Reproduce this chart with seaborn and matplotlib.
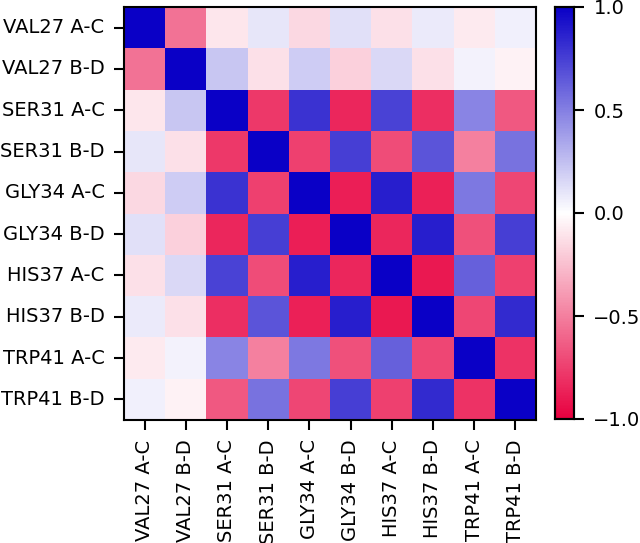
import numpy as np
import pandas as pd
import matplotlib
matplotlib.use("Agg")
import matplotlib.pyplot as plt
import seaborn as sns
from matplotlib.colors import LinearSegmentedColormap

labels = ["VAL27 A-C", "VAL27 B-D", "SER31 A-C", "SER31 B-D", "GLY34 A-C",
          "GLY34 B-D", "HIS37 A-C", "HIS37 B-D", "TRP41 A-C", "TRP41 B-D"]

# correlation values (symmetric)
row_val27_ac = [1.00, -0.55, -0.10, 0.10, -0.15, 0.12, -0.12, 0.08, -0.08, 0.06]
row_val27_bd = [-0.55, 1.00, 0.22, -0.12, 0.20, -0.18, 0.15, -0.12, 0.05, -0.05]
row_ser31_ac = [-0.10, 0.22, 1.00, -0.78, 0.80, -0.85, 0.74, -0.82, 0.48, -0.65]
row_ser31_bd = [0.10, -0.12, -0.78, 1.00, -0.75, 0.75, -0.70, 0.67, -0.50, 0.55]
row_gly34_ac = [-0.15, 0.20, 0.80, -0.75, 1.00, -0.88, 0.88, -0.87, 0.53, -0.72]
row_gly34_bd = [0.12, -0.18, -0.85, 0.75, -0.88, 1.00, -0.85, 0.88, -0.68, 0.75]
row_his37_ac = [-0.12, 0.15, 0.74, -0.70, 0.88, -0.85, 1.00, -0.90, 0.62, -0.75]
row_his37_bd = [0.08, -0.12, -0.82, 0.67, -0.87, 0.88, -0.90, 1.00, -0.72, 0.83]
row_trp41_ac = [-0.08, 0.05, 0.48, -0.50, 0.53, -0.68, 0.62, -0.72, 1.00, -0.80]
row_trp41_bd = [0.06, -0.05, -0.65, 0.55, -0.72, 0.75, -0.75, 0.83, -0.80, 1.00]

corr = pd.DataFrame([row_val27_ac, row_val27_bd, row_ser31_ac, row_ser31_bd,
                     row_gly34_ac, row_gly34_bd, row_his37_ac, row_his37_bd,
                     row_trp41_ac, row_trp41_bd], index=labels, columns=labels)

cmap = LinearSegmentedColormap.from_list("rwb", ["#e8003f", "#ffffff", "#0a00c6"])

fig = plt.figure(figsize=(6.4, 5.43), dpi=100)
ax = fig.add_axes([124 / 640, 1 - 420 / 543, 412 / 640, 413 / 543])
cax = fig.add_axes([555 / 640, 1 - 419 / 543, 19 / 640, 412 / 543])

sns.heatmap(corr, ax=ax, cbar_ax=cax, cmap=cmap, vmin=-1, vmax=1,
            xticklabels=labels, yticklabels=labels)

for s in ax.spines.values():
    s.set_visible(True)
    s.set_linewidth(1.5)
cax.set_frame_on(True)
for s in cax.spines.values():
    s.set_visible(True)
    s.set_linewidth(1.5)

ax.tick_params(axis="both", labelsize=14, length=7, width=1.5, pad=7)
ax.set_xticklabels(labels, rotation=90)
ax.set_yticklabels(labels, rotation=0)
cax.set_yticks([-1.0, -0.5, 0.0, 0.5, 1.0])
cax.tick_params(labelsize=14, length=7, width=1.5, pad=7)

fig.savefig("out.png", dpi=100)
